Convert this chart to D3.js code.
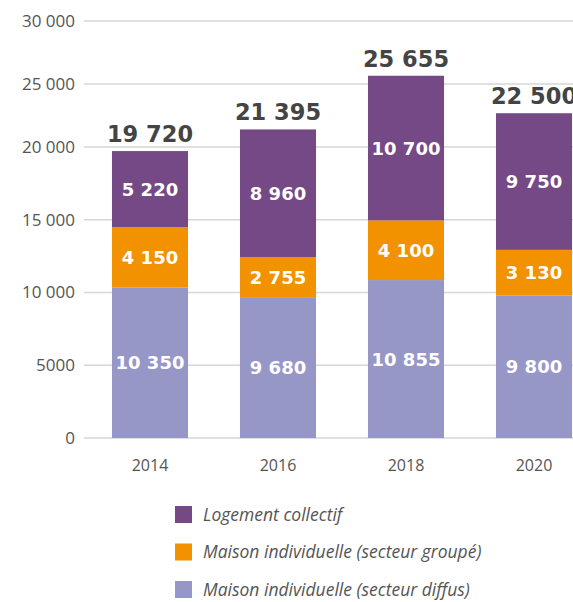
<!DOCTYPE html>
<html>
<head>
<meta charset="utf-8">
<script src="https://cdn.jsdelivr.net/npm/d3@7"></script>
<style>
  body { margin: 0; background: #fff; }
</style>
</head>
<body>
<div id="chart"></div>
<script>
// Data
const years = ["2014", "2016", "2018", "2020"];
const diffus = [10350, 9680, 10855, 9800];
const groupe = [4150, 2755, 4100, 3130];
const collectif = [5220, 8960, 10700, 9750];
const totals = [19720, 21395, 25655, 22500];
const yTicks = [0, 5000, 10000, 15000, 20000, 25000, 30000];
const seriesNames = ["Logement collectif", "Maison individuelle (secteur groupé)", "Maison individuelle (secteur diffus)"];
const colors = ["#754886", "#f29200", "#9797c7"];

const W = 573, H = 602;

const fr = d3.formatLocale({ decimal: ",", thousands: " ", grouping: [3], currency: ["", " €"] });
const fmt = fr.format(",d");
const tickFmt = d => d < 10000 ? String(d) : fmt(d);

const svg = d3.select("#chart").append("svg")
    .attr("width", W)
    .attr("height", H);

// x scale
const x = d3.scaleBand()
    .domain(years)
    .range([86, 598])
    .paddingInner(0.406)
    .paddingOuter(0.203);

// y scale (upper gridlines are tighter in the original)
const y = d3.scaleLinear()
    .domain([0, 20000, 30000])
    .range([438, 147, 21]);

// Y axis with gridlines
const yAxis = svg.append("g")
    .attr("transform", "translate(84,0)")
    .call(d3.axisLeft(y).tickValues(yTicks).tickFormat(tickFmt).tickSize(0).tickPadding(9));
yAxis.select(".domain").remove();
yAxis.selectAll("text")
    .attr("fill", "#555")
    .attr("font-family", "Open Sans, sans-serif")
    .attr("font-size", "17px");

svg.append("g")
    .selectAll("line")
    .data(yTicks)
    .join("line")
    .attr("x1", 84)
    .attr("x2", W)
    .attr("y1", d => y(d))
    .attr("y2", d => y(d))
    .attr("stroke", "#d6d6d6")
    .attr("stroke-width", 1.5);

// X axis labels
const xAxis = svg.append("g")
    .attr("transform", "translate(0,438)")
    .call(d3.axisBottom(x).tickSize(0).tickPadding(22));
xAxis.select(".domain").remove();
xAxis.selectAll("text")
    .attr("fill", "#555")
    .attr("font-family", "Open Sans, sans-serif")
    .attr("font-size", "16px");

// Stack
const rows = years.map((yr, i) => ({ year: yr, diffus: diffus[i], groupe: groupe[i], collectif: collectif[i] }));
const keys = ["diffus", "groupe", "collectif"];
const keyColor = { diffus: colors[2], groupe: colors[1], collectif: colors[0] };
const stacked = d3.stack().keys(keys)(rows);

const layers = svg.append("g")
    .selectAll("g")
    .data(stacked)
    .join("g")
    .attr("fill", d => keyColor[d.key]);

layers.selectAll("rect")
    .data(d => d)
    .join("rect")
    .attr("x", d => x(d.data.year))
    .attr("width", x.bandwidth())
    .attr("y", d => y(d[1]))
    .attr("height", d => y(d[0]) - y(d[1]));

// Segment labels
layers.selectAll("text")
    .data(d => d.map(v => ({ v, key: d.key })))
    .join("text")
    .attr("x", d => x(d.v.data.year) + x.bandwidth() / 2)
    .attr("y", d => (y(d.v[0]) + y(d.v[1])) / 2)
    .attr("dy", "0.36em")
    .attr("text-anchor", "middle")
    .attr("fill", "#fff")
    .attr("font-family", "DejaVu Sans, sans-serif")
    .attr("font-weight", "bold")
    .attr("font-size", "18px")
    .text(d => fmt(d.v.data[d.key]));

// Totals
svg.append("g")
    .selectAll("text")
    .data(years)
    .join("text")
    .attr("x", d => x(d) + x.bandwidth() / 2)
    .attr("y", (d, i) => y(diffus[i] + groupe[i] + collectif[i]) - 9)
    .attr("text-anchor", "middle")
    .attr("fill", "#444")
    .attr("font-family", "DejaVu Sans, sans-serif")
    .attr("font-weight", "bold")
    .attr("font-size", "22.5px")
    .text((d, i) => fmt(totals[i]));

// Legend
const legend = svg.append("g")
    .selectAll("g")
    .data(seriesNames)
    .join("g")
    .attr("transform", (d, i) => `translate(175,${506 + i * 37.5})`);

legend.append("rect")
    .attr("width", 17)
    .attr("height", 17)
    .attr("fill", (d, i) => colors[i]);

legend.append("text")
    .attr("x", 28)
    .attr("y", 8.5)
    .attr("dy", "0.35em")
    .attr("fill", "#555")
    .attr("font-family", "Open Sans, sans-serif")
    .attr("font-style", "italic")
    .attr("font-size", "17.5px")
    .text(d => d);
</script>
</body>
</html>
